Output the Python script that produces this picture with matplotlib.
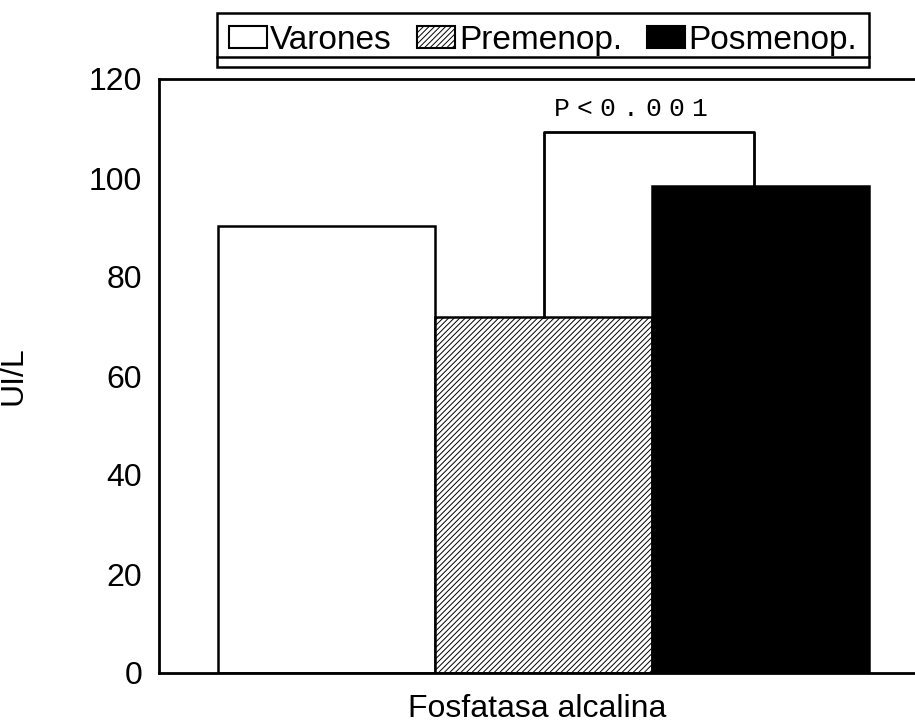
import matplotlib
matplotlib.use("Agg")
import matplotlib.pyplot as plt
from matplotlib.patches import Patch
from matplotlib.lines import Line2D

# data
groups = ["Varones", "Premenop.", "Posmenop."]
values = [90.3, 72.0, 98.4]
bracket_top = 109.3
p_label = "P<0.001"
y_ticks = [0, 20, 40, 60, 80, 100, 120]
x_label = "Fosfatasa alcalina"
y_label = "UI/L"

plt.rcParams["font.family"] = ["Liberation Sans", "DejaVu Sans"]
plt.rcParams["hatch.linewidth"] = 0.7

fig = plt.figure(figsize=(9.15, 7.27), dpi=100)
ax = fig.add_axes([159 / 915, 54 / 727, 756 / 915, 594 / 727])

faces = ["white", "white", "black"]
hatches = [None, "//////", None]
xpos = [0, 1, 2]
for x, v, fc, h in zip(xpos, values, faces, hatches):
    ax.bar(x, v, width=1.0, color=fc, edgecolor="black", linewidth=1.8,
           hatch=h, zorder=2)

# significance bracket between Premenop. and Posmenop.
ax.plot([xpos[1], xpos[1], xpos[2] - 0.03, xpos[2] - 0.03],
        [values[1], bracket_top, bracket_top, values[2]],
        color="black", linewidth=2, zorder=3)

# spaced monospace label
mid = (xpos[1] + xpos[2]) / 2 - 0.1
for i, ch in enumerate(p_label):
    ax.annotate(ch, (mid, 114.0), xytext=((i - 3) * 16.5, 0),
                textcoords="offset points", ha="center", va="center",
                fontsize=19, family="Liberation Mono")

ax.set_xlim(-0.772, 2.71)
ax.set_ylim(0, 120)
ax.set_yticks(y_ticks)
ax.set_xticks([])
ax.tick_params(axis="y", length=0, pad=12, labelsize=23)
ax.spines["right"].set_visible(False)
for s in ["left", "top", "bottom"]:
    ax.spines[s].set_linewidth(2)
ax.set_ylabel(y_label, fontsize=23)
ax.yaxis.set_label_coords(-0.173, 0.5)
ax.set_xlabel(x_label, fontsize=23, labelpad=15)

handles = [Patch(facecolor=fc, edgecolor="black", hatch=h, linewidth=1.5)
           for fc, h in zip(faces, hatches)]
leg = fig.legend(handles, groups, loc="upper left", ncol=3,
                 bbox_to_anchor=(217 / 915, 1 - 13 / 727),
                 fontsize=24, frameon=True, fancybox=False, framealpha=1,
                 edgecolor="black", borderpad=0.35, handlelength=1.15,
                 handleheight=0.6, handletextpad=0.1, columnspacing=0.75,
                 borderaxespad=0)
leg.get_frame().set_linewidth(1.8)

# underline inside the legend box
fig.canvas.draw()
bb = leg.get_window_extent()
fig.add_artist(Line2D([bb.x0 / 915, bb.x1 / 915], [1 - 57 / 727, 1 - 57 / 727],
                      color="black", linewidth=1.8, zorder=10))

fig.savefig("out.png", dpi=100)
